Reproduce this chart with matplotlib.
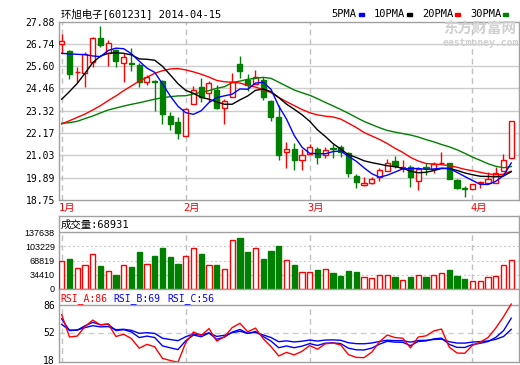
import matplotlib
matplotlib.use('Agg')
import matplotlib.pyplot as plt
from matplotlib.patches import Rectangle
import numpy as np

plt.rcParams['font.family'] = ['DejaVu Sans Mono', 'Noto Sans CJK SC']

title = '环旭电子[601231] 2014-04-15'
month_labels = ['1月', '2月', '3月', '4月']
month_start = [0, 16, 32, 53]

opens = [26.72, 26.38, 25.28, 25.24, 25.83, 27.03, 26.26, 26.43, 25.75, 25.76,
         25.66, 24.81, 24.84, 24.84, 23.06, 22.76, 22.04, 23.65, 24.52, 24.21,
         24.38, 23.44, 24.01, 25.71, 24.89, 24.69, 24.89, 23.82, 22.98, 21.23,
         21.36, 20.82, 21.10, 21.36, 21.05, 21.39, 21.45, 21.14, 20.00, 19.54,
         19.64, 19.94, 20.24, 20.75, 20.37, 20.46, 19.73, 20.42, 20.34, 20.65,
         20.63, 19.78, 19.38, 19.32, 19.64, 19.61, 19.64, 20.24, 20.89]
highs = [27.25, 26.43, 25.58, 26.31, 27.08, 27.66, 26.94, 26.47, 26.29, 26.52,
         25.75, 25.15, 24.90, 24.89, 23.24, 23.02, 23.44, 24.59, 24.98, 24.84,
         24.64, 23.90, 25.27, 26.12, 25.22, 25.41, 25.03, 23.87, 23.61, 21.74,
         21.69, 21.35, 21.62, 21.48, 21.48, 21.62, 21.57, 21.19, 20.08, 19.91,
         19.94, 20.41, 20.83, 21.00, 20.80, 20.54, 20.46, 20.63, 20.71, 21.19,
         20.66, 19.81, 19.49, 19.57, 19.74, 20.17, 20.46, 21.11, 22.80]
lows = [26.26, 24.93, 24.81, 24.55, 25.58, 26.60, 25.63, 25.58, 24.81, 25.37,
        24.55, 24.64, 23.29, 22.64, 22.34, 21.86, 22.04, 23.65, 23.78, 23.78,
        23.39, 22.64, 24.01, 24.98, 24.35, 24.69, 23.87, 22.81, 20.80, 20.38,
        20.29, 20.31, 21.10, 20.58, 20.88, 20.88, 20.93, 19.91, 19.35, 19.49,
        19.55, 19.70, 20.24, 20.37, 20.20, 19.40, 19.27, 20.03, 20.15, 20.65,
        19.83, 19.32, 18.91, 19.32, 19.35, 19.56, 19.61, 20.24, 20.89]
closes = [26.87, 25.22, 25.30, 26.21, 27.03, 26.69, 26.81, 25.89, 26.06, 25.73,
          24.81, 25.03, 24.80, 23.13, 22.63, 22.16, 23.39, 24.38, 24.04, 24.72,
          23.44, 23.84, 24.81, 25.37, 24.64, 25.03, 24.04, 23.02, 21.05, 21.35,
          20.80, 21.05, 21.45, 20.97, 21.31, 21.36, 21.19, 20.12, 19.69, 19.64,
          19.85, 20.29, 20.63, 20.49, 20.46, 19.91, 20.34, 20.39, 20.59, 20.67,
          19.83, 19.35, 19.33, 19.57, 19.67, 19.81, 20.15, 20.80, 22.80]
volumes = [68800, 72600, 51200, 58100, 85600, 56600, 44400, 33600, 58100, 54300,
           89500, 60400, 79500, 100200, 77200, 61200, 78800, 99400, 84100, 58100,
           58900, 48900, 117800, 123100, 89500, 99400, 72600, 91000, 104800, 70400,
           58900, 40500, 40500, 45100, 48900, 38200, 31400, 42800, 40500, 28300,
           26800, 32900, 32900, 29100, 22200, 29100, 32900, 29100, 32900, 37500,
           45100, 31400, 25200, 19100, 19100, 29100, 30600, 58100, 68931]

# MA values before enough visible days exist
ma5_head = [26.26, 26.23, 26.21, 26.19]
ma10_head = [23.91, 24.30, 24.72, 25.24, 25.78, 26.12, 26.26, 26.29, 26.26]
ma20_head = [22.64, 22.81, 22.98, 23.15, 23.36, 23.58, 23.84, 24.08, 24.35, 24.59,
             24.84, 25.03, 25.24, 25.37, 25.46, 25.48, 25.41, 25.31, 25.19]
ma30_head = [22.68, 22.71, 22.78, 22.92, 23.05, 23.21, 23.36, 23.46, 23.56, 23.65,
             23.73, 23.82, 23.91, 23.99, 24.04, 24.08, 24.09, 24.18, 24.26, 24.35,
             24.47, 24.55, 24.76, 24.84, 24.93, 24.98, 25.03, 24.98, 24.78]
rsi_start = [74, 69, 62]
# last RSI values as printed on the chart
rsi_names = ['RSI_A', 'RSI_B', 'RSI_C']
rsi_last = [86, 69, 56]

price_ticks = [27.88, 26.74, 25.60, 24.46, 23.32, 22.17, 21.03, 19.89, 18.75]
vol_ticks = [0, 34410, 68819, 103229, 137638]
rsi_ticks = [18, 52, 86]

RED = '#ff0000'
GREEN = '#008000'
BLUE = '#0000ff'
FRAME = '#a0a0a0'
GRID = '#cccccc'


def moving_avg(c, n, head):
    out = list(head)
    for i in range(len(head), len(c)):
        out.append(np.mean(c[i - n + 1:i + 1]))
    return np.array(out)


def rsi(c, n, start):
    d = np.diff(c)
    a = np.mean(np.abs(d))
    u = a * start / 100.0
    out = [start]
    for x in d:
        u = (max(x, 0) + (n - 1) * u) / n
        a = (abs(x) + (n - 1) * a) / n
        out.append(100 * u / a)
    return np.array(out)


W, H = 520, 365


def fx(px):
    return px / W


def fy(py):
    return 1 - py / H


def style_axes(ax):
    for s in ax.spines.values():
        s.set_color(FRAME)
        s.set_linewidth(1)
    ax.tick_params(length=0, pad=3, labelsize=7)
    ax.set_xticks([])


n = len(closes)
x = np.arange(n)
xlim = (-0.35, 59.0)

fig = plt.figure(figsize=(5.2, 3.65), dpi=100)

# price panel
ax = fig.add_axes([fx(59), fy(200), fx(460), 178.3 / H])
style_axes(ax)
ax.set_xlim(*xlim)
ax.set_ylim(18.75, 27.88)
ax.set_yticks(price_ticks)
ax.set_yticklabels(['%.2f' % t for t in price_ticks])
for t in price_ticks[1:-1]:
    ax.axhline(t, color=GRID, lw=1, zorder=0)
for m in month_start:
    ax.axvline(m, color='#c0c0c0', lw=1, ls=(0, (4, 3)), zorder=0)

w = 0.65
for i in range(n):
    up = closes[i] >= opens[i]
    col = RED if up else GREEN
    ax.vlines(i, lows[i], highs[i], color=col, lw=1, zorder=2)
    lo, hi = min(opens[i], closes[i]), max(opens[i], closes[i])
    ax.add_patch(Rectangle((i - w / 2, lo), w, max(hi - lo, 0.005),
                           facecolor='white' if up else col, edgecolor=col,
                           lw=1, zorder=3))

ma5 = moving_avg(closes, 5, ma5_head)
ma10 = moving_avg(closes, 10, ma10_head)
ma20 = moving_avg(closes, 20, ma20_head)
ma30 = moving_avg(closes, 30, ma30_head)
ax.plot(x, ma30, color=GREEN, lw=1, zorder=4)
ax.plot(x, ma20, color=RED, lw=1, zorder=4)
ax.plot(x, ma10, color='black', lw=1, zorder=4)
ax.plot(x, ma5, color=BLUE, lw=1, zorder=4)

# watermark
fig.text(fx(443), fy(29), '东方财富网', color='#d0d0d0', fontsize=10.5,
         fontweight='bold', va='center', ha='left', family=['Noto Sans CJK SC'])
fig.text(fx(443), fy(43), 'eastmoney.com', color='#d0d0d0', fontsize=7,
         fontweight='bold', va='center', ha='left')

# title and legend
fig.text(fx(61), fy(14), title, fontsize=7.5, va='center', ha='left')
legend = [('5PMA', BLUE, 331, 359), ('10PMA', 'black', 374, 407),
          ('20PMA', RED, 422, 455), ('30PMA', GREEN, 470, 503)]
for name, col, tx, mx in legend:
    fig.text(fx(tx), fy(14), name, fontsize=7.5, va='center', ha='left')
    fig.patches.append(Rectangle((fx(mx), fy(15.5)), fx(5), 3 / H,
                                 transform=fig.transFigure, color=col))

# month labels
for m, lab in zip(month_start, month_labels):
    px = 61 + 7.76 * m - 2
    fig.text(fx(px), fy(208), lab, color=RED, fontsize=7.5, va='center', ha='left')

# volume panel
axv = fig.add_axes([fx(59), fy(289), fx(460), 73 / H])
style_axes(axv)
axv.set_xlim(*xlim)
axv.set_ylim(0, 137638 * 73 / 57)
axv.set_yticks(vol_ticks)
axv.set_yticklabels([str(t) for t in vol_ticks], family='Liberation Sans', fontsize=6.5)
axv.axhline(137638, color=FRAME, lw=1)
for t in vol_ticks[1:-1]:
    axv.axhline(t, color=GRID, lw=0.8, ls=(0, (2, 2)), zorder=0)
for m in month_start:
    axv.plot([m, m], [0, 137638], color='#c0c0c0', lw=1, ls=(0, (4, 3)), zorder=0)
for i in range(n):
    up = closes[i] >= opens[i]
    col = RED if up else GREEN
    axv.add_patch(Rectangle((i - 0.34, 0), 0.68, volumes[i],
                            facecolor='white' if up else col, edgecolor=col,
                            lw=1, zorder=3))
axv.text(0.003, 0.875, '成交量:%d' % volumes[-1], transform=axv.transAxes,
         fontsize=7.5, va='center', ha='left')

# RSI panel: 86 at y=305, 18 at y=360
axr = fig.add_axes([fx(59), fy(362), fx(460), 73 / H])
style_axes(axr)
axr.set_xlim(*xlim)
k = 68 / 55.0
axr.set_ylim(18 - 2 * k, 86 + 16 * k)
axr.set_yticks(rsi_ticks)
axr.set_yticklabels([str(t) for t in rsi_ticks])
axr.axhline(86, color=FRAME, lw=1)
axr.axhline(52, color=GRID, lw=1, ls=(0, (4, 3)), zorder=0)
for m in month_start:
    axr.plot([m, m], [14, 86], color='#c0c0c0', lw=1, ls=(0, (4, 3)), zorder=0)

rsi_a = rsi(closes, 6, rsi_start[0])
rsi_b = rsi(closes, 12, rsi_start[1])
rsi_c = rsi(closes, 24, rsi_start[2])
axr.plot(x, rsi_c, color=BLUE, lw=1)
axr.plot(x, rsi_b, color=BLUE, lw=1)
axr.plot(x, rsi_a, color=RED, lw=1)

for name, val, col, px in zip(rsi_names, rsi_last, [RED, BLUE, BLUE], [60, 113, 167]):
    fig.text(fx(px), fy(299), '%s:%d' % (name, val), color=col, fontsize=7,
             va='center', ha='left')

fig.savefig('out.png', dpi=100)
